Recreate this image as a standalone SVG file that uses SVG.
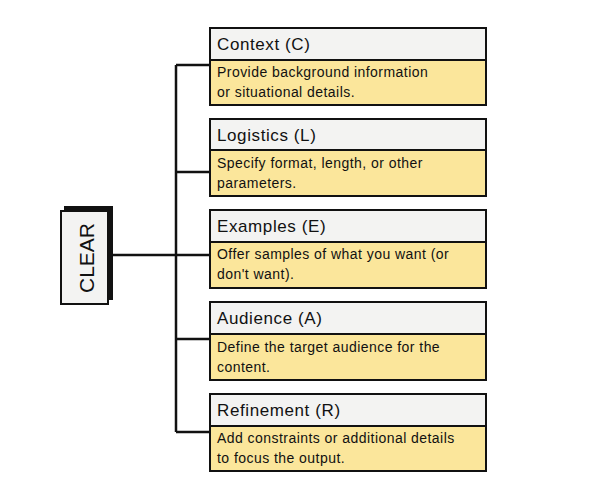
<svg xmlns="http://www.w3.org/2000/svg" width="600" height="500" viewBox="0 0 600 500">
<style>
.hd{fill:#f3f3f2;stroke:#111;stroke-width:2}
.bd{fill:#fbe69b;stroke:#111;stroke-width:2}
.ht{font-family:"Liberation Sans",Arial,sans-serif;font-size:17px;letter-spacing:0.6px;fill:#111}
.bt{font-family:"Liberation Sans",Arial,sans-serif;font-size:14px;letter-spacing:0.45px;fill:#111}
.ct{font-family:"Liberation Sans",Arial,sans-serif;font-size:21px;fill:#111}
.cn{fill:none;stroke:#111;stroke-width:2.5}
</style>
<rect width="600" height="500" fill="#fff"/>
<g id="connectors">
<path class="cn" d="M176 65 V432 M176 65 H210 M176 172 H210 M176 432 H210 M176 339 H210 M113 255 H210"/>
</g>
<g id="clear">
<rect x="64" y="206" width="49" height="94" fill="#111"/>
<rect x="61" y="211" width="47" height="93" fill="#f3f3f2" stroke="#111" stroke-width="2"/>
<text class="ct" x="0" y="0" text-anchor="middle" transform="translate(94,258) rotate(-90)">CLEAR</text>
</g>
<g id="context">
<rect class="hd" x="210" y="28" width="276" height="32"/>
<rect class="bd" x="210" y="60" width="276" height="45"/>
<text class="ht" x="217" y="50">Context (C)</text>
<text class="bt" x="217" y="77">Provide background information</text>
<text class="bt" x="217" y="97">or situational details.</text>
</g>
<g id="logistics">
<rect class="hd" x="210" y="119" width="276" height="31"/>
<rect class="bd" x="210" y="150" width="276" height="46"/>
<text class="ht" x="217" y="141">Logistics (L)</text>
<text class="bt" x="217" y="168">Specify format, length, or other</text>
<text class="bt" x="217" y="188">parameters.</text>
</g>
<g id="examples">
<rect class="hd" x="210" y="210" width="276" height="32"/>
<rect class="bd" x="210" y="242" width="276" height="46"/>
<text class="ht" x="217" y="232">Examples (E)</text>
<text class="bt" x="217" y="259">Offer samples of what you want (or</text>
<text class="bt" x="217" y="279">don't want).</text>
</g>
<g id="audience">
<rect class="hd" x="210" y="302" width="276" height="32"/>
<rect class="bd" x="210" y="334" width="276" height="46"/>
<text class="ht" x="217" y="324">Audience (A)</text>
<text class="bt" x="217" y="352">Define the target audience for the</text>
<text class="bt" x="217" y="372">content.</text>
</g>
<g id="refinement">
<rect class="hd" x="210" y="394" width="276" height="32"/>
<rect class="bd" x="210" y="426" width="276" height="45"/>
<text class="ht" x="217" y="416">Refinement (R)</text>
<text class="bt" x="217" y="443">Add constraints or additional details</text>
<text class="bt" x="217" y="463">to focus the output.</text>
</g>
</svg>
